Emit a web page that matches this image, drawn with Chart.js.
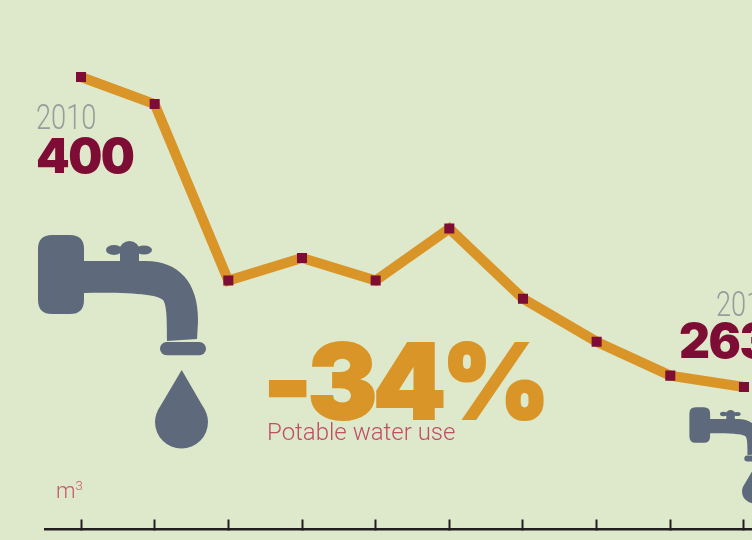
<!DOCTYPE html>
<html lang="en">
<head>
  <meta charset="UTF-8" />
  <title>Potable water use</title>
  <script src="https://cdn.jsdelivr.net/npm/chart.js"></script>
  <style>
    html, body { margin: 0; padding: 0; background: #dee8cb; overflow: hidden; }
    #wrap { position: relative; width: 752px; height: 540px; overflow: hidden; }
    canvas { position: absolute; left: 0; top: 0; }
    .label { position: absolute; white-space: nowrap; line-height: 1; font-family: "Liberation Sans", Arial, sans-serif; transform-origin: 0 0; }
    .year { color: #979c9c; font-family: Roboto, sans-serif; font-weight: 300; font-size: 34.5px; transform: scaleX(0.79); }
    .value { color: #7e0d35; font-family: Inter, sans-serif; font-weight: 900; font-size: 48px; letter-spacing: -1.5px; }
    #pct { color: #d99527; font-family: Inter, sans-serif; font-weight: 900; font-size: 104px; left: 263px; top: 329px; letter-spacing: -4.5px; -webkit-text-stroke: 2px #d99527; }
    #sub { color: #bf5064; font-size: 24px; left: 267px; top: 420px; font-family: Roboto, sans-serif; font-weight: 300; }
    #unit { color: #c65a6b; font-size: 22px; left: 56px; top: 480px; font-family: Roboto, sans-serif; font-weight: 300; }
    #unit sup { font-size: 13px; line-height: 0; vertical-align: 8px; }
  </style>
</head>
<body>
  <div id="wrap">
    <canvas id="waterChart" width="752" height="540"></canvas>
    <div class="label year" style="left:36px;top:100px">2010</div>
    <div class="label value" style="left:36px;top:132px">400</div>
    <div class="label year" style="left:716px;top:287px">2019</div>
    <div class="label value" style="left:679px;top:317px">263</div>
    <div class="label" id="pct">-34%</div>
    <div class="label" id="sub">Potable water use</div>
    <div class="label" id="unit">m<sup>3</sup></div>
  </div>

  <script>
    const years = [2010, 2011, 2012, 2013, 2014, 2015, 2016, 2017, 2018, 2019];
    const waterUse = [400, 388, 310, 320, 310, 333, 302, 283, 268, 263];

    // Tap icon, drawn behind the line at full size on the left and small on the right
    const tapBody = new Path2D(
      'M52 235 H70 Q84 235 84 249 V261 H120 V252 H139 V261 H146 C178 261 199 282 198 322 L197 339 L167 341 ' +
      'C167 322 167 305 163 300 C158 295 135 292 84 293 V300 Q84 314 70 314 H52 Q38 314 38 300 V249 Q38 235 52 235 Z'
    );
    const tapDrop = new Path2D(
      'M181.7 370 L202 405 C206 411 208 416 208 422 A26.5 26.5 0 0 1 155 422 C155 416 157 411 161 405 Z'
    );
    const tapHandle = [[114, 250, 8, 5], [144, 250, 8, 4.5], [129.5, 250, 10, 9]];

    function drawTap(ctx, tx, ty, s) {
      ctx.save();
      ctx.translate(tx, ty);
      ctx.scale(s, s);
      ctx.fillStyle = '#5e6a7c';
      ctx.fill(tapBody);
      ctx.fill(tapDrop);
      tapHandle.forEach(([x, y, rx, ry]) => {
        ctx.beginPath();
        ctx.ellipse(x, y, rx, ry, 0, 0, Math.PI * 2);
        ctx.fill();
      });
      ctx.beginPath();
      ctx.roundRect(160, 342, 46, 13.3, 6.6);
      ctx.fill();
      ctx.restore();
    }

    const tapPlugin = {
      id: 'taps',
      beforeDatasetsDraw(chart) {
        drawTap(chart.ctx, 0, 0, 1);
        drawTap(chart.ctx, 672.3, 301.5, 0.45);
      }
    };

    new Chart(document.getElementById('waterChart').getContext('2d'), {
      type: 'line',
      data: {
        datasets: [{
          data: years.map((y, i) => ({ x: y, y: waterUse[i] })),
          borderColor: '#d99527',
          borderWidth: 10,
          borderJoinStyle: 'miter',
          tension: 0,
          pointStyle: 'rect',
          pointRadius: 7.1,
          pointHoverRadius: 7.1,
          pointBorderWidth: 0,
          pointBackgroundColor: '#7e0d35'
        }]
      },
      options: {
        responsive: false,
        animation: false,
        events: [],
        layout: { autoPadding: false, padding: { left: 45, right: 0, top: 0, bottom: 10.5 } },
        plugins: { legend: { display: false }, tooltip: { enabled: false } },
        scales: {
          x: {
            type: 'linear',
            min: 2009.511,
            max: 2019.109,
            afterBuildTicks(scale) { scale.ticks = years.map(v => ({ value: v })); },
            afterFit(scale) { scale.height = 0; },
            ticks: { display: false },
            border: { display: true, color: '#231f20', width: 2.5 },
            grid: { drawOnChartArea: false, drawTicks: true, tickLength: -10, tickColor: '#231f20', tickWidth: 2 }
          },
          y: { display: false, min: 200, max: 434 }
        }
      },
      plugins: [tapPlugin]
    });
  </script>
</body>
</html>
